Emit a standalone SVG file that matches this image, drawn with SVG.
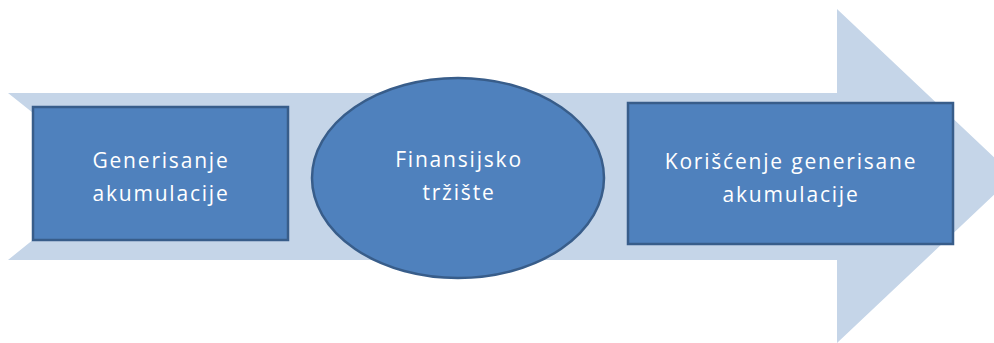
<svg xmlns="http://www.w3.org/2000/svg" width="994" height="343" viewBox="0 0 994 343">
  <style>
    .box { fill: #4f81bd; stroke: #385d8a; stroke-width: 2.5; }
    .lbl { fill: #ffffff; font-family: "Open Sans", Lato, "Liberation Sans", sans-serif; font-size: 21px; letter-spacing: 1.8px; text-anchor: middle; }
  </style>
  <!-- background notched arrow -->
  <g id="flow-arrow">
    <polygon points="8,93 837,93 837,9 1014,176 837,343 837,260 8,260 112,176" fill="#c5d5e8"/>
  </g>
  <g id="connectors"></g>
  <g id="node-generisanje">
    <rect class="box" x="33" y="107" width="255" height="133"/>
    <text class="lbl" x="161" y="168">Generisanje</text>
    <text class="lbl" x="161" y="201">akumulacije</text>
  </g>
  <g id="node-trziste">
    <ellipse class="box" cx="458" cy="178" rx="146" ry="100"/>
    <text class="lbl" x="459" y="167">Finansijsko</text>
    <text class="lbl" x="459" y="200">tržište</text>
  </g>
  <g id="node-koriscenje">
    <rect class="box" x="628" y="103" width="325" height="141"/>
    <text class="lbl" x="791" y="169">Korišćenje generisane</text>
    <text class="lbl" x="791" y="202">akumulacije</text>
  </g>
</svg>
